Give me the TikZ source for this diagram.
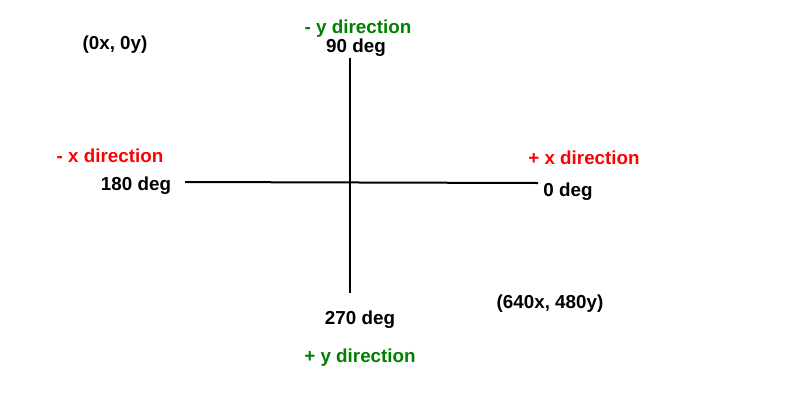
\documentclass[tikz,border=0pt]{standalone}
\usepackage{fontspec}
\setmainfont{Liberation Sans}
\begin{document}
\begin{tikzpicture}[x=1pt,y=-1pt,
  lbl/.style={font=\fontsize{18.8}{20}\selectfont\bfseries, inner sep=0pt, anchor=center},
  axis/.style={line width=2pt, black}]
\definecolor{dirgreen}{RGB}{0,128,0}
\definecolor{dirred}{RGB}{255,0,0}
\useasboundingbox[fill=white] (0,0) rectangle (800,400);
\coordinate (hl) at (185,182);
\coordinate (hr) at (538,183);
\coordinate (vt) at (350,58);
\coordinate (vb) at (350,293);
\draw[axis] (hl) -- (hr);
\draw[axis] (vt) -- (vb);
\node[lbl] (origin) at (115,45) {(0x, 0y)};
\node[lbl, text=dirgreen] (ny) at (358,29) {- y direction};
\node[lbl] (d90) at (356,47.5) {90 deg};
\node[lbl, text=dirred] (nx) at (110,156) {- x direction};
\node[lbl] (d180) at (136,186) {180 deg};
\node[lbl, text=dirred] (px) at (584,158) {+ x direction};
\node[lbl] (d0) at (568,192) {0 deg};
\node[lbl] (corner) at (550,304) {(640x, 480y)};
\node[lbl] (d270) at (360,320) {270 deg};
\node[lbl, text=dirgreen] (py) at (360,358) {+ y direction};
\end{tikzpicture}
\end{document}
